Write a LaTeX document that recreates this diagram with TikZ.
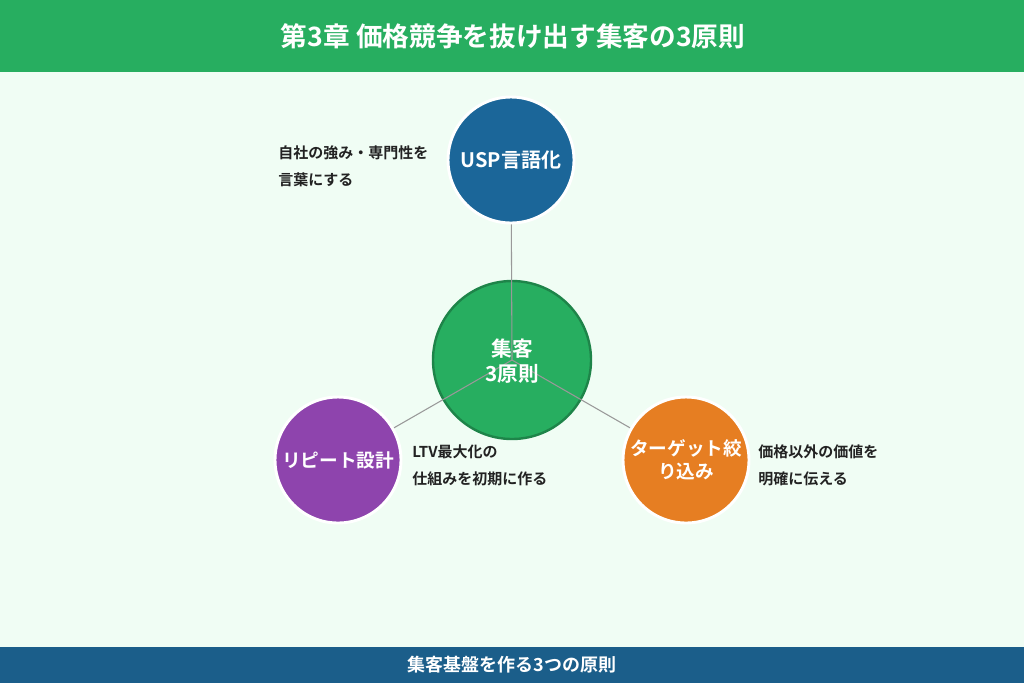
\documentclass[tikz,border=0pt]{standalone}
\usepackage{fontspec}
\setmainfont{Noto Sans CJK JP}
\newfontfamily\jpb{Noto Sans CJK JP Bold}
\definecolor{hdr}{HTML}{27AE60}
\definecolor{bg}{HTML}{F0FDF4}
\definecolor{ftr}{HTML}{1B5E8A}
\definecolor{usp}{HTML}{1B6699}
\definecolor{ctr}{HTML}{27AE60}
\definecolor{ctrb}{HTML}{1E8449}
\definecolor{rep}{HTML}{8E44AD}
\definecolor{tgt}{HTML}{E67E22}
\definecolor{txt}{HTML}{222222}
\tikzset{
 px/.style={x=0.75pt,y=-0.75pt},
 sat/.style={circle,draw=white,line width=2.2pt,minimum size=126*0.75pt,inner sep=0pt,text=white,align=center,font=\jpb\fontsize{14}{17}\selectfont},
 note/.style={anchor=west,text=txt,font=\jpb\fontsize{11.25}{13}\selectfont,inner sep=0pt},
 conn/.style={draw=gray!80,line width=0.8pt}
}
\begin{document}
\begin{tikzpicture}[px]
\useasboundingbox (0,0) rectangle (1024,683);
\fill[bg] (0,0) rectangle (1024,683);
\fill[hdr] (0,0) rectangle (1024,72);
\fill[ftr] (0,647) rectangle (1024,683);
\node[text=white,font=\jpb\fontsize{20}{24}\selectfont] (title) at (513,36) {第3章 価格競争を抜け出す集客の3原則};
\node[text=white,font=\jpb\fontsize{13.5}{16}\selectfont] (foot) at (512,665) {集客基盤を作る3つの原則};
\node[circle,fill=ctr,draw=ctrb,line width=1.8pt,minimum size=158*0.75pt,inner sep=0pt] (c) at (512,360) {};
\coordinate (u0) at (511,160);
\coordinate (r0) at (338,460);
\coordinate (t0) at (686,460);
\draw[conn] (c.center) -- (u0);
\draw[conn] (c.center) -- (r0);
\draw[conn] (c.center) -- (t0);
\node[text=white,align=center,font=\jpb\fontsize{15.5}{19}\selectfont] (ct) at (512,361) {集客\\3原則};
\node[sat,fill=usp,font=\jpb\fontsize{15}{18}\selectfont] (u) at (u0) {USP言語化};
\node[sat,fill=rep] (r) at (r0) {リピート設計};
\node[sat,fill=tgt] (t) at (t0) {ターゲット絞\\り込み};
\node[note] (n1) at (278,153) {自社の強み・専門性を};
\node[note] (n2) at (278,180) {言葉にする};
\node[note] (n3) at (412,452) {LTV最大化の};
\node[note] (n4) at (412,479) {仕組みを初期に作る};
\node[note] (n5) at (758,452) {価格以外の価値を};
\node[note] (n6) at (758,479) {明確に伝える};
\end{tikzpicture}
\end{document}
